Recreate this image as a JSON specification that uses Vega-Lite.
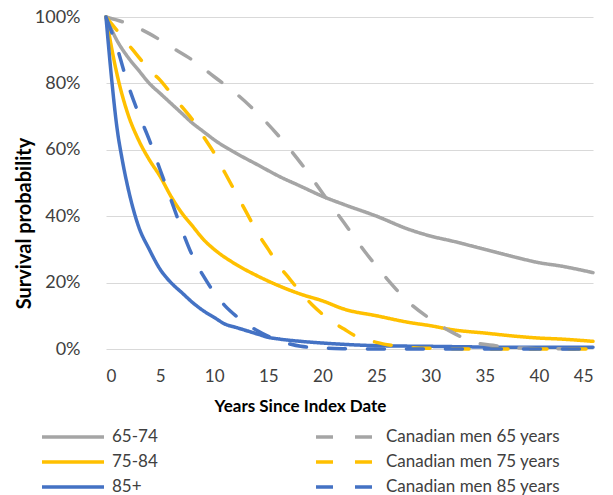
{
  "$schema": "https://vega.github.io/schema/vega-lite/v6.json",
  "autosize": "none",
  "width": 487,
  "height": 332,
  "padding": {"left": 106, "top": 17, "right": 20, "bottom": 146},
  "background": "white",
  "config": {"font": "Lato", "view": {"stroke": null}},
  "datasets": {
    "curves": [
      {"series": "65-74", "year": 0, "value": 100}, {"series": "65-74", "year": 1, "value": 93}, {"series": "65-74", "year": 2, "value": 88}, {"series": "65-74", "year": 3, "value": 84}, {"series": "65-74", "year": 4, "value": 80}, {"series": "65-74", "year": 5, "value": 77}, {"series": "65-74", "year": 6, "value": 74}, {"series": "65-74", "year": 7, "value": 71}, {"series": "65-74", "year": 8, "value": 68}, {"series": "65-74", "year": 9, "value": 65.5}, {"series": "65-74", "year": 10, "value": 63}, {"series": "65-74", "year": 12, "value": 59}, {"series": "65-74", "year": 14, "value": 55.5}, {"series": "65-74", "year": 16, "value": 52}, {"series": "65-74", "year": 18, "value": 49}, {"series": "65-74", "year": 20, "value": 46}, {"series": "65-74", "year": 22, "value": 43.5}, {"series": "65-74", "year": 25, "value": 40}, {"series": "65-74", "year": 28, "value": 36}, {"series": "65-74", "year": 30, "value": 34}, {"series": "65-74", "year": 32, "value": 32.5}, {"series": "65-74", "year": 35, "value": 30}, {"series": "65-74", "year": 38, "value": 27.5}, {"series": "65-74", "year": 40, "value": 26}, {"series": "65-74", "year": 42, "value": 25}, {"series": "65-74", "year": 45, "value": 23},
      {"series": "75-84", "year": 0, "value": 100}, {"series": "75-84", "year": 1, "value": 83}, {"series": "75-84", "year": 2, "value": 71}, {"series": "75-84", "year": 3, "value": 63}, {"series": "75-84", "year": 4, "value": 57}, {"series": "75-84", "year": 5, "value": 52}, {"series": "75-84", "year": 6, "value": 46}, {"series": "75-84", "year": 7, "value": 41}, {"series": "75-84", "year": 8, "value": 37}, {"series": "75-84", "year": 9, "value": 33}, {"series": "75-84", "year": 10, "value": 30}, {"series": "75-84", "year": 12, "value": 25.5}, {"series": "75-84", "year": 14, "value": 22}, {"series": "75-84", "year": 16, "value": 19}, {"series": "75-84", "year": 18, "value": 16.5}, {"series": "75-84", "year": 20, "value": 14.5}, {"series": "75-84", "year": 22, "value": 12}, {"series": "75-84", "year": 25, "value": 10}, {"series": "75-84", "year": 28, "value": 8}, {"series": "75-84", "year": 30, "value": 7}, {"series": "75-84", "year": 32, "value": 5.8}, {"series": "75-84", "year": 35, "value": 4.8}, {"series": "75-84", "year": 38, "value": 3.8}, {"series": "75-84", "year": 40, "value": 3.3}, {"series": "75-84", "year": 42, "value": 3}, {"series": "75-84", "year": 45, "value": 2.3},
      {"series": "85+", "year": 0, "value": 100}, {"series": "85+", "year": 0.5, "value": 82}, {"series": "85+", "year": 1, "value": 67}, {"series": "85+", "year": 1.5, "value": 57}, {"series": "85+", "year": 2, "value": 49}, {"series": "85+", "year": 3, "value": 37}, {"series": "85+", "year": 4, "value": 30}, {"series": "85+", "year": 5, "value": 24}, {"series": "85+", "year": 6, "value": 20}, {"series": "85+", "year": 7, "value": 17}, {"series": "85+", "year": 8, "value": 14}, {"series": "85+", "year": 9, "value": 11.5}, {"series": "85+", "year": 10, "value": 9.5}, {"series": "85+", "year": 11, "value": 7.5}, {"series": "85+", "year": 12, "value": 6.5}, {"series": "85+", "year": 13, "value": 5.5}, {"series": "85+", "year": 14, "value": 4.5}, {"series": "85+", "year": 15, "value": 3.5}, {"series": "85+", "year": 16, "value": 3}, {"series": "85+", "year": 18, "value": 2.3}, {"series": "85+", "year": 20, "value": 1.8}, {"series": "85+", "year": 22, "value": 1.4}, {"series": "85+", "year": 25, "value": 1}, {"series": "85+", "year": 30, "value": 0.8}, {"series": "85+", "year": 35, "value": 0.6}, {"series": "85+", "year": 40, "value": 0.5}, {"series": "85+", "year": 45, "value": 0.5},
      {"series": "Canadian men 65 years", "year": 0, "value": 100}, {"series": "Canadian men 65 years", "year": 2, "value": 98}, {"series": "Canadian men 65 years", "year": 4, "value": 95}, {"series": "Canadian men 65 years", "year": 6, "value": 91}, {"series": "Canadian men 65 years", "year": 8, "value": 87}, {"series": "Canadian men 65 years", "year": 10, "value": 82}, {"series": "Canadian men 65 years", "year": 12, "value": 77}, {"series": "Canadian men 65 years", "year": 14, "value": 71}, {"series": "Canadian men 65 years", "year": 16, "value": 64}, {"series": "Canadian men 65 years", "year": 18, "value": 56}, {"series": "Canadian men 65 years", "year": 20, "value": 47}, {"series": "Canadian men 65 years", "year": 22, "value": 38}, {"series": "Canadian men 65 years", "year": 24, "value": 29}, {"series": "Canadian men 65 years", "year": 26, "value": 21}, {"series": "Canadian men 65 years", "year": 28, "value": 14}, {"series": "Canadian men 65 years", "year": 30, "value": 9}, {"series": "Canadian men 65 years", "year": 32, "value": 5}, {"series": "Canadian men 65 years", "year": 34, "value": 2}, {"series": "Canadian men 65 years", "year": 36, "value": 1}, {"series": "Canadian men 65 years", "year": 38, "value": 0.3}, {"series": "Canadian men 65 years", "year": 40, "value": 0.1}, {"series": "Canadian men 65 years", "year": 45, "value": 0},
      {"series": "Canadian men 75 years", "year": 0, "value": 100}, {"series": "Canadian men 75 years", "year": 1, "value": 96}, {"series": "Canadian men 75 years", "year": 2, "value": 92}, {"series": "Canadian men 75 years", "year": 3, "value": 88}, {"series": "Canadian men 75 years", "year": 4, "value": 84}, {"series": "Canadian men 75 years", "year": 5, "value": 81}, {"series": "Canadian men 75 years", "year": 6, "value": 77}, {"series": "Canadian men 75 years", "year": 7, "value": 73}, {"series": "Canadian men 75 years", "year": 8, "value": 69}, {"series": "Canadian men 75 years", "year": 9, "value": 64}, {"series": "Canadian men 75 years", "year": 10, "value": 59}, {"series": "Canadian men 75 years", "year": 11, "value": 53}, {"series": "Canadian men 75 years", "year": 12, "value": 47}, {"series": "Canadian men 75 years", "year": 13, "value": 41}, {"series": "Canadian men 75 years", "year": 14, "value": 35}, {"series": "Canadian men 75 years", "year": 15, "value": 30}, {"series": "Canadian men 75 years", "year": 16, "value": 25}, {"series": "Canadian men 75 years", "year": 17, "value": 21}, {"series": "Canadian men 75 years", "year": 18, "value": 17}, {"series": "Canadian men 75 years", "year": 19, "value": 13.5}, {"series": "Canadian men 75 years", "year": 20, "value": 10.5}, {"series": "Canadian men 75 years", "year": 21, "value": 8}, {"series": "Canadian men 75 years", "year": 22, "value": 6}, {"series": "Canadian men 75 years", "year": 23, "value": 4}, {"series": "Canadian men 75 years", "year": 24, "value": 2.8}, {"series": "Canadian men 75 years", "year": 25, "value": 2}, {"series": "Canadian men 75 years", "year": 26, "value": 1.3}, {"series": "Canadian men 75 years", "year": 28, "value": 0.5}, {"series": "Canadian men 75 years", "year": 30, "value": 0.2}, {"series": "Canadian men 75 years", "year": 35, "value": 0}, {"series": "Canadian men 75 years", "year": 45, "value": 0},
      {"series": "Canadian men 85 years", "year": 0, "value": 100}, {"series": "Canadian men 85 years", "year": 1, "value": 91}, {"series": "Canadian men 85 years", "year": 2, "value": 80}, {"series": "Canadian men 85 years", "year": 3, "value": 71}, {"series": "Canadian men 85 years", "year": 4, "value": 63}, {"series": "Canadian men 85 years", "year": 5, "value": 54}, {"series": "Canadian men 85 years", "year": 6, "value": 45}, {"series": "Canadian men 85 years", "year": 7, "value": 36}, {"series": "Canadian men 85 years", "year": 8, "value": 28}, {"series": "Canadian men 85 years", "year": 9, "value": 22}, {"series": "Canadian men 85 years", "year": 10, "value": 17}, {"series": "Canadian men 85 years", "year": 11, "value": 13}, {"series": "Canadian men 85 years", "year": 12, "value": 10}, {"series": "Canadian men 85 years", "year": 13, "value": 7.5}, {"series": "Canadian men 85 years", "year": 14, "value": 5.5}, {"series": "Canadian men 85 years", "year": 15, "value": 3.8}, {"series": "Canadian men 85 years", "year": 16, "value": 2.5}, {"series": "Canadian men 85 years", "year": 17, "value": 1.5}, {"series": "Canadian men 85 years", "year": 18, "value": 0.8}, {"series": "Canadian men 85 years", "year": 20, "value": 0.3}, {"series": "Canadian men 85 years", "year": 22, "value": 0.1}, {"series": "Canadian men 85 years", "year": 25, "value": 0}, {"series": "Canadian men 85 years", "year": 45, "value": 0}
    ]
  },
  "data": {"name": "curves"},
  "mark": {"type": "line", "interpolate": "monotone", "strokeCap": "round", "clip": false},
  "encoding": {
    "x": {
      "field": "year", "type": "quantitative",
      "scale": {"domain": [0, 45], "nice": false},
      "axis": {"values": [0, 5, 10, 15, 20, 25, 30, 35, 40, 45], "title": "Years Since Index Date", "grid": false, "domain": false, "ticks": false,
        "labelFont": "Lato", "labelFontSize": 17, "labelColor": "#404040", "labelPadding": 19,
        "titleFont": "Lato", "titleFontSize": 17, "titleFontWeight": "bold", "titleColor": "#000000", "titlePadding": 14, "titleX": 194, "titleAlign": "center"}
    },
    "y": {
      "field": "value", "type": "quantitative",
      "scale": {"domain": [0, 100], "nice": false},
      "axis": {"values": [0, 20, 40, 60, 80, 100], "labelExpr": "datum.value + '%'", "title": "Survival probability", "grid": true, "gridColor": "#d9d9d9", "gridWidth": 1, "domain": false, "ticks": false,
        "labelFont": "Lato", "labelFontSize": 18, "labelColor": "#404040", "labelPadding": 26,
        "titleFont": "Lato", "titleFontSize": 20, "titleFontWeight": "bold", "titleColor": "#000000", "titleX": -82, "titleY": 206, "titleAngle": 270, "titleAlign": "center", "titleBaseline": "middle"}
    },
    "color": {
      "field": "series", "type": "nominal",
      "scale": {
        "domain": ["65-74", "75-84", "85+", "Canadian men 65 years", "Canadian men 75 years", "Canadian men 85 years"],
        "range": ["#a5a5a5", "#ffc000", "#4472c4", "#a5a5a5", "#ffc000", "#4472c4"]
      },
      "legend": {
        "title": null, "orient": "none", "legendX": -66, "legendY": 408, "columns": 2, "columnPadding": 151, "rowPadding": 5,
        "symbolType": "M-1,0H5.2", "symbolSize": 400, "symbolOffset": 0, "labelLimit": 400,
        "labelFont": "Lato", "labelFontSize": 17, "labelColor": "#404040", "labelOffset": 48
      }
    },
    "strokeDash": {
      "field": "series", "type": "nominal",
      "scale": {
        "domain": ["65-74", "75-84", "85+", "Canadian men 65 years", "Canadian men 75 years", "Canadian men 85 years"],
        "range": [[1, 0], [1, 0], [1, 0], [17, 22], [17, 22], [17, 22]]
      },
      "legend": null
    },
    "strokeWidth": {
      "field": "series", "type": "nominal",
      "scale": {
        "domain": ["65-74", "75-84", "85+", "Canadian men 65 years", "Canadian men 75 years", "Canadian men 85 years"],
        "range": [3.5, 3.5, 3.5, 5, 5, 5]
      },
      "legend": null
    }
  }
}
